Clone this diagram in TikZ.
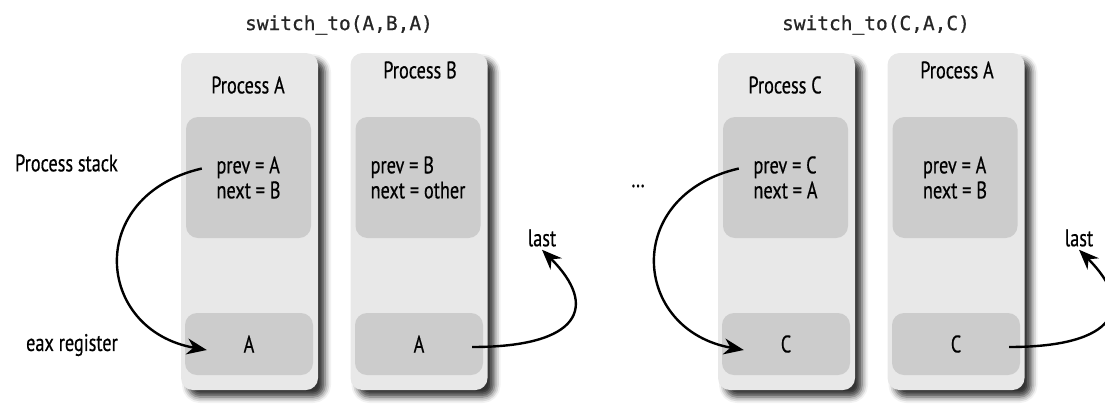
\documentclass[tikz,border=0pt]{standalone}
\usepackage{fontspec}
\setmainfont{PT Sans}[FakeStretch=0.76,FakeBold=0.5]
\newfontfamily\codefont{DejaVu Sans Mono}[FakeBold=0.8]
\usetikzlibrary{arrows.meta,shadows.blur}
\begin{document}
\begin{tikzpicture}[x=1pt,y=-1pt,
  txt/.style={font=\fontsize{24}{25}\selectfont,inner sep=0pt},
  proc/.style={rounded corners=12pt,fill=gray!18,minimum width=137pt,minimum height=337pt,
    blur shadow={shadow xshift=7pt,shadow yshift=-7pt,shadow blur radius=6pt,shadow opacity=80}},
  frame/.style={txt,rounded corners=12pt,fill=gray!40,minimum width=125pt,minimum height=121pt,align=left},
  reg/.style={txt,rounded corners=12pt,fill=gray!40,minimum width=128pt,minimum height=62pt},
  code/.style={font=\codefont\fontsize{19.5}{20}\selectfont,text=black!85},
  arr/.style={-{Stealth[length=20pt,width=16pt]},line width=2.4pt}]
\useasboundingbox (0,0) rectangle (1105,408);
\node[code] (callA) at (339,25) {switch\_to(A,B,A)};
\node[code] (callC) at (876,25) {switch\_to(C,A,C)};
\node[proc] (procA) at (249.5,221.5) {};
\node[proc] (procB) at (419,221.5) {};
\node[proc] (procC) at (786.5,221.5) {};
\node[proc] (procA2) at (956,221.5) {};
\node[txt] (nameA) at (248,85) {Process A};
\node[txt] (nameB) at (420,70) {Process B};
\node[txt] (nameC) at (785,85) {Process C};
\node[txt] (nameA2) at (957,70) {Process A};
\node[frame] (stackA) at (248.5,177.5) {prev = A\\next = B};
\node[frame] (stackB) at (418,177.5) {prev = B\\next = other};
\node[frame] (stackC) at (785.5,177.5) {prev = C\\next = A};
\node[frame] (stackA2) at (955,177.5) {prev = A\\next = B};
\node[reg] (regA) at (249,344) {A};
\node[reg] (regB) at (419,344) {A};
\node[reg] (regC) at (786,344) {C};
\node[reg] (regA2) at (956,344) {C};
\node[txt,anchor=east] (stacklbl) at (118,163) {Process stack};
\node[txt,anchor=east] (eaxlbl) at (118,345) {eax register};
\node[txt] (dots) at (638,186) {\ldots};
\node[txt,inner sep=3pt] (lastB) at (542,238) {last};
\node[txt,inner sep=3pt] (lastA2) at (1079,238) {last};
\draw[arr] ([xshift=16pt,yshift=9pt]stackA.west) .. controls +(-117,27) and +(-112,-20) .. ([xshift=22pt,yshift=-6pt]regA.west);
\draw[arr] ([xshift=16pt,yshift=9pt]stackC.west) .. controls +(-117,27) and +(-112,-20) .. ([xshift=22pt,yshift=-6pt]regC.west);
\draw[arr] ([xshift=-11pt,yshift=-3pt]regB.east) .. controls +(108,0) and +(57,57) .. (lastB.south);
\draw[arr] ([xshift=-11pt,yshift=-3pt]regA2.east) .. controls +(108,0) and +(57,57) .. (lastA2.south);
\end{tikzpicture}
\end{document}
